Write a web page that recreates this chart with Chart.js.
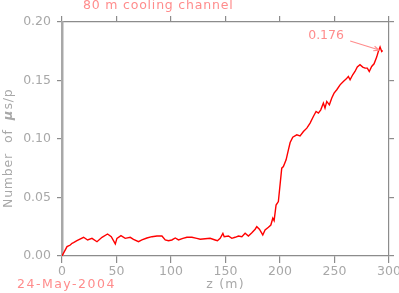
<!DOCTYPE html>
<html>
<head>
<meta charset="utf-8">
<script src="https://cdn.jsdelivr.net/npm/chart.js@4/dist/chart.umd.min.js"></script>
<style>
html,body{margin:0;padding:0;background:#fff;overflow:hidden;}
#wrap{width:420px;height:293px;}
</style>
</head>
<body>
<div id="wrap"><canvas id="c" width="420" height="293"></canvas></div>
<script>
// ---- data ----
const zValues = [0, 4.6, 7.6, 9.2, 10.6, 13.7, 19.8, 23.5, 27.5, 32.1, 36.7, 41.8, 45.2, 48.9, 50.4, 54.1, 58.0, 62.6, 65.6, 70.2, 73.3, 77.9, 82.5, 87.1, 91.7, 94.7, 97.7, 100.8, 103.9, 106.9, 110.9, 114.6, 119.2, 123.7, 126.8, 131.3, 135.9, 140.5, 142.6, 145.1, 147.6, 148.8, 152.7, 155.8, 158.8, 161.9, 165.0, 168.0, 171.0, 174.2, 177.2, 178.7, 181.1, 184.2, 186.3, 189.4, 191.6, 193.4, 194.6, 196.4, 198.5, 201.6, 203.1, 205.6, 207.7, 209.3, 211.7, 215.4, 218.4, 221.5, 224.6, 227.6, 230.6, 233.1, 235.2, 237.4, 239.8, 241.3, 242.9, 245.3, 247.5, 249.6, 252.1, 255.1, 258.1, 260.6, 262.7, 264.3, 266.7, 268.8, 270.9, 273.4, 275.9, 278.0, 280.1, 281.9, 284.1, 286.3, 288.7, 290.2, 291.8, 293.3, 294.2];
const muPerP = [0, 0.0080, 0.0094, 0.0109, 0.0114, 0.0131, 0.0160, 0.0137, 0.0151, 0.0122, 0.0160, 0.0188, 0.0165, 0.0103, 0.0151, 0.0174, 0.0151, 0.0160, 0.0143, 0.0122, 0.0137, 0.0154, 0.0165, 0.0171, 0.0171, 0.0137, 0.0131, 0.0137, 0.0154, 0.0137, 0.0151, 0.0160, 0.0160, 0.0151, 0.0143, 0.0147, 0.0151, 0.0137, 0.0131, 0.0151, 0.0194, 0.0165, 0.0171, 0.0151, 0.0160, 0.0171, 0.0165, 0.0194, 0.0171, 0.0199, 0.0229, 0.0251, 0.0229, 0.0180, 0.0223, 0.0246, 0.0265, 0.0323, 0.0302, 0.0436, 0.0465, 0.0751, 0.0764, 0.0822, 0.0907, 0.0970, 0.1016, 0.1036, 0.1027, 0.1064, 0.1093, 0.1136, 0.1192, 0.1235, 0.1221, 0.1249, 0.1307, 0.1264, 0.1321, 0.1292, 0.1350, 0.1392, 0.1421, 0.1463, 0.1492, 0.1512, 0.1534, 0.1506, 0.1549, 0.1577, 0.1615, 0.1635, 0.1615, 0.1606, 0.1606, 0.1577, 0.1620, 0.1643, 0.1700, 0.1748, 0.1786, 0.1748, 0.1757];
const xTicks = [0, 50, 100, 150, 200, 250, 300];
const yTicks = [0.00, 0.05, 0.10, 0.15, 0.20];
const titleText = '80 m cooling channel';
const dateText = '24-May-2004';
const xTitle = 'z (m)';
const yTitleParts = ['Number', 'of', 'μ', 's/p'];
const annotZ = [291];
const annotMu = [0.176];
const annotLabel = ['0.176'];

// ---- styles ----
const FONT = 'DejaVu Sans';
const GRAY = '#a8a8a8';
const AXIS = '#8c8c8c';
const PINK = '#ff8c8c';

const points = zValues.map((z, i) => ({x: z, y: muPerP[i]}));

function fixSize(prop, v) { return function (s) { s[prop] = v; }; }
function setTicks(arr) { return function (s) { s.ticks = arr.map(v => ({value: v})); }; }

const textPlugin = {
  id: 'texts',
  afterDraw(chart) {
    const ctx = chart.ctx;
    const xs = chart.scales.x, ys = chart.scales.y;
    ctx.save();
    ctx.font = '12.5px "' + FONT + '"';
    ctx.textBaseline = 'middle';
    ctx.fillStyle = PINK;
    ctx.letterSpacing = '0.8px';
    ctx.textAlign = 'left';
    ctx.fillText(titleText, 83, 6);
    ctx.letterSpacing = '1.5px';
    ctx.fillText(dateText, 17, 285);
    ctx.fillStyle = GRAY;
    ctx.letterSpacing = '1.2px';
    ctx.textAlign = 'center';
    ctx.fillText(xTitle, (chart.chartArea.left + chart.chartArea.right) / 2, 285);
    ctx.save();
    ctx.translate(9, 208);
    ctx.rotate(-Math.PI / 2);
    ctx.textAlign = 'left';
    ctx.letterSpacing = '0.8px';
    let p = 0;
    ctx.fillText(yTitleParts[0], p, 0);
    p += ctx.measureText(yTitleParts[0]).width + 10;
    ctx.fillText(yTitleParts[1], p, 0);
    p += ctx.measureText(yTitleParts[1]).width + 9;
    ctx.font = 'italic bold 13px "' + FONT + '"';
    ctx.fillText(yTitleParts[2], p, 0);
    p += ctx.measureText(yTitleParts[2]).width + 0.5;
    ctx.font = '12.5px "' + FONT + '"';
    ctx.fillText(yTitleParts[3], p, 0);
    ctx.restore();
    annotZ.forEach((z, i) => {
      const tx = xs.getPixelForValue(z), ty = ys.getPixelForValue(annotMu[i]);
      const sx = tx - 29, sy = ty - 9;
      ctx.strokeStyle = PINK;
      ctx.lineWidth = 1.1;
      ctx.beginPath();
      ctx.moveTo(sx, sy); ctx.lineTo(tx, ty);
      const ang = Math.atan2(ty - sy, tx - sx);
      const L = 6, A = 0.4;
      ctx.moveTo(tx, ty); ctx.lineTo(tx - L * Math.cos(ang - A), ty - L * Math.sin(ang - A));
      ctx.moveTo(tx, ty); ctx.lineTo(tx - L * Math.cos(ang + A), ty - L * Math.sin(ang + A));
      ctx.stroke();
      ctx.fillStyle = PINK;
      ctx.textAlign = 'left';
      ctx.letterSpacing = '0px';
      ctx.fillText(annotLabel[i], tx - 71, ty - 14);
    });
    ctx.restore();
  }
};

const tickFont = {family: FONT, size: 12.5};
function gridOpts(len) {
  return {display: true, drawOnChartArea: false, drawTicks: true, tickLength: len, color: AXIS, lineWidth: 1.2};
}

new Chart(document.getElementById('c'), {
  type: 'line',
  data: {
    datasets: [{
      data: points,
      borderColor: '#ff0000',
      borderWidth: 1.4,
      pointRadius: 0,
      tension: 0,
      fill: false,
      xAxisID: 'x',
      yAxisID: 'y'
    }]
  },
  options: {
    responsive: false,
    devicePixelRatio: 1,
    animation: false,
    layout: {padding: 0},
    plugins: {legend: {display: false}, tooltip: {enabled: false}, title: {display: false}},
    scales: {
      x: {
        type: 'linear', position: 'bottom', min: 0, max: 300,
        afterBuildTicks: setTicks(xTicks),
        afterFit: fixSize('height', 37),
        border: {display: true, color: AXIS, width: 1.2},
        grid: gridOpts(7),
        ticks: {color: GRAY, font: tickFont, padding: 1, maxRotation: 0, autoSkip: false}
      },
      x2: {
        type: 'linear', position: 'top', min: 0, max: 300, display: true,
        afterBuildTicks: setTicks(xTicks),
        afterFit: fixSize('height', 22),
        border: {display: true, color: AXIS, width: 1.2},
        grid: gridOpts(6),
        ticks: {display: true, color: 'rgba(0,0,0,0)', font: tickFont, maxRotation: 0, autoSkip: false}
      },
      y: {
        type: 'linear', position: 'left', min: 0, max: 0.2,
        afterBuildTicks: setTicks(yTicks),
        afterFit: fixSize('width', 62),
        border: {display: true, color: '#a8a8a8', width: 2.5},
        grid: gridOpts(5),
        ticks: {color: GRAY, font: tickFont, padding: 6, callback: v => v.toFixed(2)}
      },
      y2: {
        type: 'linear', position: 'right', min: 0, max: 0.2, display: true,
        afterBuildTicks: setTicks(yTicks),
        afterFit: fixSize('width', 31),
        border: {display: true, color: AXIS, width: 1.2},
        grid: gridOpts(5),
        ticks: {display: true, color: 'rgba(0,0,0,0)', font: tickFont}
      }
    }
  },
  plugins: [textPlugin]
});
</script>
</body>
</html>
